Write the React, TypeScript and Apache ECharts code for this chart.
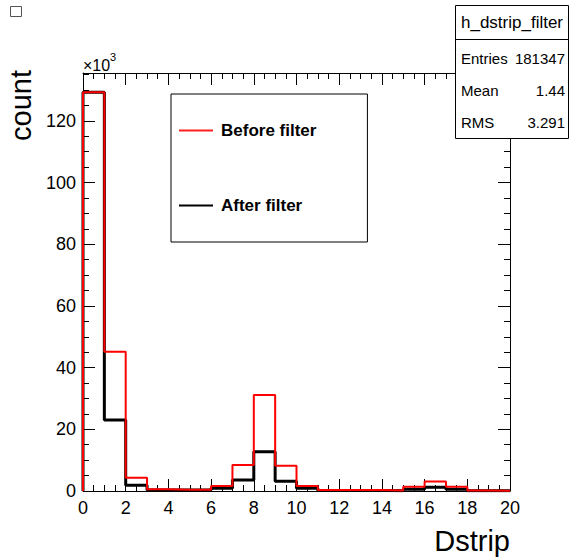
import React, { useEffect, useRef } from "react";
import * as echarts from "echarts";

const FONT = '"Liberation Sans", Arial, Helvetica, sans-serif';

// histogram bins (low edges), width 1
const binLowEdges = [0, 1, 2, 3, 4, 5, 6, 7, 8, 9, 10, 11, 12, 13, 14, 15, 16, 17, 18, 19];
const binWidth = 1;
// counts in units of 10^3
const beforeFilter = [129.3, 45.1, 4.3, 0.6, 0.4, 0.4, 1.6, 8.4, 31.1, 8.2, 1.6, 0.3, 0.3, 0.3, 0.2, 1.4, 3.1, 1.4, 0.2, 0.1];
const afterFilter = [129.3, 23.0, 1.9, 0.3, 0.3, 0.3, 0.9, 3.6, 12.7, 3.2, 0.9, 0.2, 0.2, 0.2, 0.1, 0.6, 1.2, 0.6, 0.1, 0.1];

const seriesNames = ["Before filter", "After filter"];
const histTitle = "h_dstrip_filter";
const statsLabels = ["Entries", "Mean", "RMS"];
const statsValues = ["181347", "1.44", "3.291"];

const xMin = 0;
const xMax = 20;
const xInterval = 2;
const yMin = 0;
const yMax = 135.5;
const yInterval = 20;

function stepData(values: number[]): number[][] {
  const pts: number[][] = [[binLowEdges[0], 0]];
  values.forEach((v, i) => pts.push([binLowEdges[i], v]));
  const last = binLowEdges[binLowEdges.length - 1] + binWidth;
  pts.push([last, values[values.length - 1]]);
  pts.push([last, 0]);
  return pts;
}

export default function App() {
  const ref = useRef<HTMLDivElement>(null);

  useEffect(() => {
    if (!ref.current) return;
    const chart = echarts.init(ref.current, undefined, { renderer: "svg" });

    const axisCommonX = {
      type: "value" as const,
      min: xMin,
      max: xMax,
      interval: xInterval,
      axisLine: { show: true, onZero: false, lineStyle: { color: "#000", width: 1 } },
      axisTick: { show: true, inside: true, length: 12, lineStyle: { color: "#000", width: 1 } },
      minorTick: { show: true, splitNumber: 4, length: 6, lineStyle: { color: "#000", width: 1 } },
      splitLine: { show: false },
      minorSplitLine: { show: false },
    };
    const axisCommonY = {
      type: "value" as const,
      min: yMin,
      max: yMax,
      interval: yInterval,
      axisLine: { show: true, onZero: false, lineStyle: { color: "#000", width: 1 } },
      axisTick: { show: true, inside: true, length: 12, lineStyle: { color: "#000", width: 1 } },
      minorTick: { show: true, splitNumber: 4, length: 6, lineStyle: { color: "#000", width: 1 } },
      splitLine: { show: false },
      minorSplitLine: { show: false },
    };

    const statsRowsY = [58, 90, 122];
    const statsElements: any[] = [];
    statsLabels.forEach((lab, i) => {
      statsElements.push({
        type: "text",
        x: 461,
        y: statsRowsY[i],
        style: { text: lab, font: `15px ${FONT}`, fill: "#000", textAlign: "left", textVerticalAlign: "middle" },
      });
      statsElements.push({
        type: "text",
        x: 565,
        y: statsRowsY[i],
        style: { text: statsValues[i], font: `15px ${FONT}`, fill: "#000", textAlign: "right", textVerticalAlign: "middle" },
      });
    });

    chart.setOption({
      animation: false,
      backgroundColor: "#fff",
      grid: { left: 83, right: 60, top: 73, bottom: 67, containLabel: false },
      xAxis: [
        {
          ...axisCommonX,
          position: "bottom",
          axisLabel: { show: true, margin: 8, fontSize: 18, color: "#000", fontFamily: FONT, showMinLabel: true, showMaxLabel: true },
        },
        {
          ...axisCommonX,
          position: "top",
          axisLabel: { show: false },
        },
      ],
      yAxis: [
        {
          ...axisCommonY,
          position: "left",
          axisLabel: { show: true, margin: 7, fontSize: 18, color: "#000", fontFamily: FONT, showMinLabel: true, showMaxLabel: false },
        },
        {
          ...axisCommonY,
          position: "right",
          axisLabel: { show: false },
        },
      ],
      legend: {
        data: [
          { name: seriesNames[0], icon: "rect", itemStyle: { color: "#ff2020" } },
          { name: seriesNames[1], icon: "rect", itemStyle: { color: "#000" } },
        ],
        orient: "vertical",
        left: 171,
        top: 94,
        padding: [28, 51, 28, 8],
        itemGap: 58,
        itemWidth: 34,
        itemHeight: 2,
        backgroundColor: "#fff",
        borderColor: "#000",
        borderWidth: 1,
        borderRadius: 0,
        textStyle: { fontFamily: FONT, fontSize: 17, fontWeight: "bold", color: "#000", lineHeight: 17, padding: [0, 0, 0, 3] },
        selectedMode: false,
      },
      series: [
        {
          name: seriesNames[1],
          type: "line",
          step: "end",
          xAxisIndex: 0,
          yAxisIndex: 0,
          symbol: "none",
          data: stepData(afterFilter),
          lineStyle: { color: "#000", width: 3 },
          itemStyle: { color: "#000" },
        },
        {
          name: seriesNames[0],
          type: "line",
          step: "end",
          xAxisIndex: 0,
          yAxisIndex: 0,
          symbol: "none",
          data: stepData(beforeFilter),
          lineStyle: { color: "#ff0000", width: 2 },
          itemStyle: { color: "#ff0000" },
        },
      ],
      graphic: [
        {
          type: "rect",
          shape: { x: 10.5, y: 6.5, width: 11, height: 10 },
          style: { fill: "#fff", stroke: "#555", lineWidth: 1 },
        },
        {
          type: "rect",
          shape: { x: 455.5, y: 5.5, width: 113, height: 133 },
          style: { fill: "#fff", stroke: "#000", lineWidth: 1 },
          z: 10,
        },
        {
          type: "line",
          shape: { x1: 455.5, y1: 39.5, x2: 568.5, y2: 39.5 },
          style: { stroke: "#000", lineWidth: 1 },
          z: 11,
        },
        {
          type: "text",
          x: 512,
          y: 22,
          z: 11,
          style: { text: histTitle, font: `17px ${FONT}`, fill: "#000", textAlign: "center", textVerticalAlign: "middle" },
        },
        ...statsElements.map((e) => ({ ...e, z: 11 })),
        {
          type: "text",
          x: 83,
          y: 65.5,
          style: { text: "×10", font: `16px ${FONT}`, fill: "#000", textAlign: "left", textVerticalAlign: "middle" },
        },
        {
          type: "text",
          x: 110,
          y: 57,
          style: { text: "3", font: `11px ${FONT}`, fill: "#000", textAlign: "left", textVerticalAlign: "middle" },
        },
        {
          type: "text",
          x: 510,
          y: 541,
          style: { text: "Dstrip", font: `29px ${FONT}`, fill: "#000", textAlign: "right", textVerticalAlign: "middle" },
        },
        {
          type: "text",
          x: 21,
          y: 70,
          rotation: Math.PI / 2,
          style: { text: "count", font: `29px ${FONT}`, fill: "#000", textAlign: "right", textVerticalAlign: "middle" },
        },
      ],
    });

    return () => chart.dispose();
  }, []);

  return (
    <div
      ref={ref}
      style={{ position: "fixed", left: 0, top: 0, width: 570, height: 558, background: "#fff" }}
    />
  );
}
